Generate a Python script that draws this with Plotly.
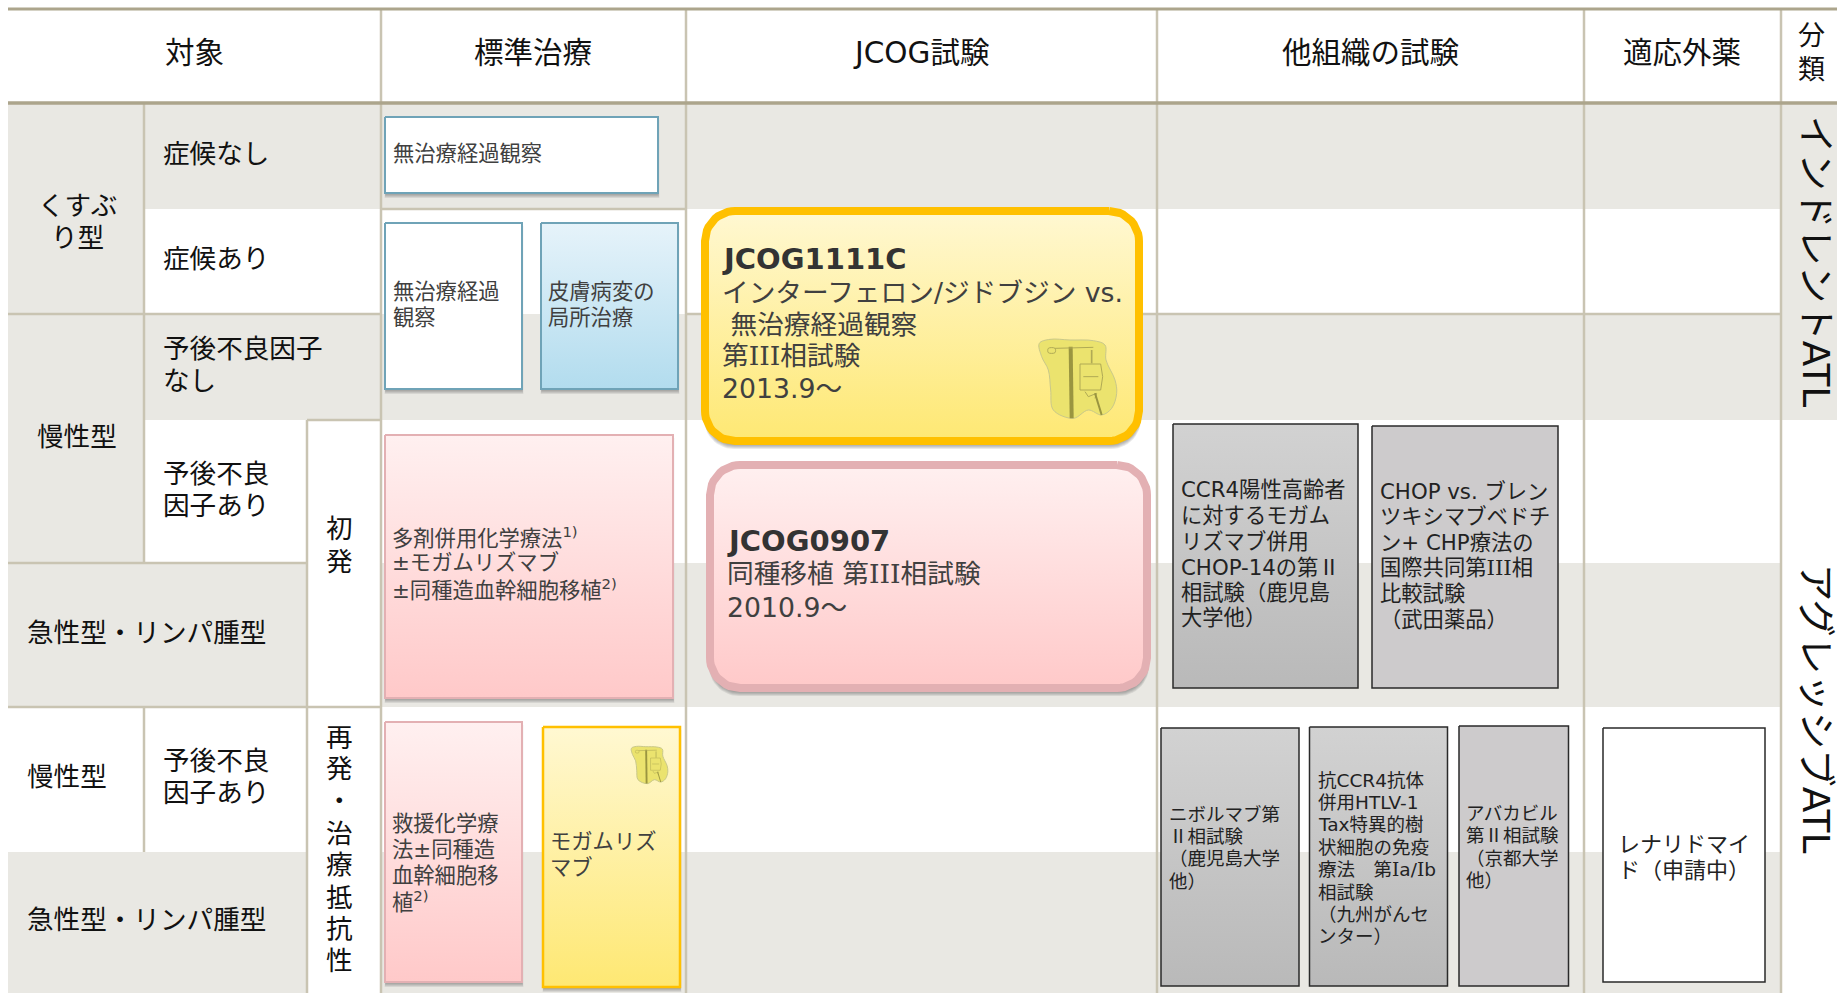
import numpy as np
import plotly.graph_objects as go

# ---------- content ----------
HEADERS = ["対象", "標準治療", "JCOG試験", "他組織の試験", "適応外薬"]
CLASS_HEAD = ["分", "類"]
CLASS_ROT = ["インドレントATL", "アグレッシブATL"]
ROW_TYPE = [["くすぶ", "り型"], ["慢性型"]]
ROW_SUB = [["症候なし"], ["症候あり"], ["予後不良因子", "なし"], ["予後不良", "因子あり"]]
ROW_WIDE = ["急性型・リンパ腫型", "慢性型", "急性型・リンパ腫型"]
ROW_SUB2 = ["予後不良", "因子あり"]
STAGE1 = list("初発")
STAGE2 = list("再発・治療抵抗性")

T_WATCH1 = ["無治療経過観察"]
T_WATCH2 = ["無治療経過", "観察"]
T_SKIN = ["皮膚病変の", "局所治療"]
T_CHEMO = ["多剤併用化学療法<sup>1)</sup>", "±モガムリズマブ", "±同種造血幹細胞移植<sup>2)</sup>"]
T_SALV = ["救援化学療", "法±同種造", "血幹細胞移", "植<sup>2)</sup>"]
T_MOGA = ["モガムリズ", "マブ"]
J1_TITLE = "JCOG1111C"
J1_LINES = ["インターフェロン/ジドブジン vs.", " 無治療経過観察", "第III相試験", "2013.9～"]
J2_TITLE = "JCOG0907"
J2_LINES = ["同種移植 第III相試験", "2010.9～"]
T_CCR4 = ["CCR4陽性高齢者", "に対するモガム", "リズマブ併用", "CHOP-14の第Ⅱ", "相試験（鹿児島", "大学他）"]
T_CHOP = ["CHOP vs. ブレン", "ツキシマブベドチ", "ン+ CHP療法の", "国際共同第III相", "比較試験", "（武田薬品）"]
T_NIVO = ["ニボルマブ第", "Ⅱ相試験", "（鹿児島大学", "他）"]
T_HTLV = ["抗CCR4抗体", "併用HTLV-1", "Tax特異的樹", "状細胞の免疫", "療法　第Ia/Ib", "相試験", "（九州がんセ", "ンター）"]
T_ABA = ["アバカビル", "第Ⅱ相試験", "（京都大学", "他）"]
T_LENA = ["レナリドマイ", "ド（申請中）"]

# ---------- style ----------
W, H = 1837, 993
FONT = "DejaVu Sans, Noto Sans CJK JP, sans-serif"
GREY = "#e9e8e3"
LINE = "#c9c4b2"
HEADLINE = "#aca58c"
BLUE_EDGE = "#6fa3b7"
PINK_EDGE = "#e3b0b3"
GOLD = "#ffc000"
PINK_G = ("#fff0f0", "#ffc9c9")
GOLD_G = ("#fff8d2", "#fee873")
BLUE_G = ("#e6f3fa", "#b2dcee")
GRAY_G = ("#d2d2d2", "#b9b9b9")
TXT_BOX = "#404040"

fig = go.Figure()
shapes, notes = [], []


def band(x0, x1, y0, y1, color=GREY):
    shapes.append(dict(type="rect", x0=x0, x1=x1, y0=y0, y1=y1, fillcolor=color,
                       line_width=0, layer="below", xref="x", yref="y"))


def rule(x0, y0, x1, y1, color=LINE, width=2.5):
    shapes.append(dict(type="line", x0=x0, x1=x1, y0=y0, y1=y1,
                       line=dict(color=color, width=width), layer="below", xref="x", yref="y"))


def outline(x0, y0, x1, y1, r=0):
    if r <= 0:
        return [x0, x1, x1, x0, x0], [y0, y0, y1, y1, y0]
    xs, ys = [], []
    corners = [(x1 - r, y0 + r, -90), (x1 - r, y1 - r, 0), (x0 + r, y1 - r, 90), (x0 + r, y0 + r, 180)]
    for cx, cy, a in corners:
        t = np.radians(np.linspace(a, a + 90, 14))
        xs += list(cx + r * np.cos(t))
        ys += list(cy + r * np.sin(t))
    return xs + xs[:1], ys + ys[:1]


def poly(xs, ys, **kw):
    fig.add_trace(go.Scatter(x=xs, y=ys, mode="lines", hoverinfo="skip", showlegend=False, **kw))


def box(x0, y0, x1, y1, fill=None, grad=None, edge="#000", lw=1.5, r=0, shadow=0):
    if shadow:
        for i in range(shadow, 0, -1):
            xs, ys = outline(x0 - i * .25 + 1, y0 + shadow * .6, x1 + i * .25, y1 + i * 1.0, max(r, 0))
            poly(xs, ys, fill="toself", fillcolor="rgba(60,60,60,0.11)", line=dict(width=0))
    xs, ys = outline(x0, y0, x1, y1, r)
    kw = dict(line=dict(color=edge, width=lw), fill="toself")
    if grad:
        kw["fillgradient"] = dict(type="vertical", start=y0, stop=y1,
                                  colorscale=[[0, grad[0]], [1, grad[1]]])
    else:
        kw["fillcolor"] = fill
    poly(xs, ys, **kw)


def markup(s):
    serif = "<span style=\"font-family:'DejaVu Serif'\">%s</span>"
    cjk = "<span style=\"font-family:'Noto Sans CJK JP'\">%s</span>"
    s = s.replace("III", serif % "III").replace("Ia/Ib", serif % "I" + "a/" + serif % "I" + "b")
    return s.replace("Ⅱ", cjk % "Ⅱ")


def text(s, x, y, size, color="#111", anchor="left", bold=False, angle=0, weight=400):
    if anchor == "left":
        x -= 2.5
    if "Ⅱ" in s:
        y -= 1.7
    notes.append(dict(text=f"<b>{s}</b>" if bold else markup(s), x=x, y=y + 0.7, xref="x", yref="y",
                      xanchor=anchor, yanchor="middle", showarrow=False, textangle=angle,
                      font=dict(family=FONT, size=size, color=color, weight=700 if bold else weight)))


def lines(items, x, ys, size, **kw):
    for s, y in zip(items, ys):
        text(s, x, y, size, **kw)


def icon(ox, oy, s):
    bx = [28, 60, 120, 190, 225, 228, 255, 260, 245, 215, 175, 130, 70, 62, 55, 35, 28]
    by = [40, 28, 30, 32, 45, 90, 150, 190, 235, 255, 240, 265, 240, 180, 120, 80, 40]
    X = lambda v: [ox + s * a for a in v]
    Y = lambda v: [oy + s * a for a in v]
    poly(X(bx), Y(by), fill="toself", fillcolor="#ebe36e", line=dict(color="#c9c88a", width=1, shape="spline"))
    dark = "#9a9540"
    pale = "#b0aa55"
    poly(X([122, 125]), Y([50, 265]), line=dict(color=dark, width=max(1.5, 12 * s)))
    poly(X([75, 190]), Y([55, 52]), line=dict(color=pale, width=max(.6, 3 * s)))
    poly(X([55, 75, 75, 55, 55]), Y([55, 55, 68, 68, 55]), line=dict(color=pale, width=max(.5, 3 * s), shape="spline"))
    poly(X([150, 212, 218, 212, 150, 150]), Y([102, 102, 140, 180, 180, 102]), line=dict(color=pale, width=max(.5, 3 * s)))
    poly(X([160, 205]), Y([140, 140]), line=dict(color=pale, width=max(.5, 3 * s)))
    poly(X([185, 185]), Y([60, 100]), line=dict(color=pale, width=max(.6, 5 * s)))
    poly(X([165, 175, 200, 195]), Y([185, 200, 190, 205]), line=dict(color=pale, width=max(.5, 3 * s)))
    poly(X([195, 205, 215]), Y([190, 225, 255]), line=dict(color=dark, width=max(.6, 6 * s)))


# ---------- table background ----------
L, C1, C2, C3, C4, C5, C6, C7 = 8, 144, 307, 381, 686, 1157, 1584, 1781
Y0, Y1, R1, R2, R3, R4, R5, R6 = 9, 103, 209, 314, 420, 563, 707, 852

band(L, C1, Y1, R4)
band(C1, C3, Y1, R1)
band(C1, C3, R2, R3)
band(L, C2, R4, R5)
band(L, C2, R6, H)
for a, b in ((Y1, R1), (R2, R3), (R4, R5), (R6, H)):
    band(C3, C7, a, b)
band(C7, W, Y1, R3)

rule(L, R2, C3, R2)
rule(C4, R2, C7, R2)
rule(C3, R1, C4, R1)
rule(C2, R3, C3, R3)
rule(L, R4, C2, R4)
rule(L, R5, C3, R5)
rule(C1, Y1, C1, R4)
rule(C1, R5, C1, R6)
rule(C2, R3, C2, H)
for c in (C3, C4, C5, C6, C7):
    rule(c, Y0, c, H)
rule(L, Y0, W, Y0, HEADLINE, 3)
rule(L, Y1, W, Y1, HEADLINE, 3.5)

# ---------- boxes ----------
box(385, 117, 658, 193, fill="#ffffff", edge=BLUE_EDGE, lw=2, shadow=5)
box(385, 223, 522, 389, fill="#ffffff", edge=BLUE_EDGE, lw=2, shadow=5)
box(541, 223, 678, 389, grad=BLUE_G, edge=BLUE_EDGE, lw=2, shadow=5)
box(385, 435, 673, 698, grad=PINK_G, edge=PINK_EDGE, lw=2, shadow=5)
box(385, 722, 522, 982, grad=PINK_G, edge=PINK_EDGE, lw=2, shadow=5)
box(543, 727, 680, 987, grad=GOLD_G, edge=GOLD, lw=2.5, shadow=5)
box(705, 211, 1139, 441, grad=GOLD_G, edge=GOLD, lw=8, r=30, shadow=8)
box(710, 465, 1147, 688, grad=PINK_G, edge=PINK_EDGE, lw=8, r=30, shadow=8)
box(1173, 424, 1358, 688, grad=GRAY_G, edge="#2a2a2a", lw=1.5)
box(1372, 426, 1558, 688, fill="#cdcbcc", edge="#2a2a2a", lw=1.5)
box(1161, 728, 1299, 986, grad=GRAY_G, edge="#2a2a2a", lw=1.5)
box(1309.5, 727, 1447.5, 986, grad=GRAY_G, edge="#2a2a2a", lw=1.5)
box(1459, 726, 1568.5, 986, fill="#cdcbcc", edge="#2a2a2a", lw=1.5)
box(1603, 728, 1765, 982, fill="#ffffff", edge="#2a2a2a", lw=1.5)
icon(1030, 330, 1 / 3)
icon(627, 742, 0.157)

# ---------- text ----------
for s, x in zip(HEADERS, (194, 533, 921, 1370, 1682)):
    text(s, x, 52, 29.5, anchor="center")
lines(CLASS_HEAD, 1811, (35, 69), 27, anchor="center")
text(CLASS_ROT[0], 1816, 261, 37.5, anchor="center", angle=90)
text(CLASS_ROT[1], 1816, 708, 37.5, anchor="center", angle=90)
lines(ROW_TYPE[0], 77, (205, 237), 26.6, anchor="center")
lines(ROW_TYPE[1], 77, (436,), 26.6, anchor="center")
lines(ROW_SUB[0], 163, (153,), 26.6)
lines(ROW_SUB[1], 163, (258,), 26.6)
lines(ROW_SUB[2], 163, (348, 380), 26.6)
lines(ROW_SUB[3], 163, (473, 505), 26.6)
text(ROW_WIDE[0], 27.7, 632, 26.6)
text(ROW_WIDE[1], 27.7, 776, 26.6)
text(ROW_WIDE[2], 27.7, 919, 26.6)
lines(ROW_SUB2, 163, (760, 792), 26.6)
lines(STAGE1, 339, (528, 561), 26.6, anchor="center")
lines(STAGE2, 339, (737, 768, 800, 833, 864, 897, 928, 960), 26.6, anchor="center")

lines(T_WATCH1, 393, (153,), 21.3, color=TXT_BOX)
lines(T_WATCH2, 393, (291, 317), 21.3, color=TXT_BOX)
lines(T_SKIN, 548, (291, 317), 21.3, color=TXT_BOX)
lines(T_CHEMO, 392, (536, 562, 588), 21.3, color=TXT_BOX)
lines(T_SALV, 392, (823, 849, 875, 900), 21.3, color=TXT_BOX)
lines(T_MOGA, 550, (841, 867), 21.3, color=TXT_BOX)

text(J1_TITLE, 722, 258, 29, color="#333", bold=True)
lines(J1_LINES, 722, (292, 324, 355, 388), 26.7, color=TXT_BOX)
text(J2_TITLE, 727, 540, 29, color="#333", bold=True)
lines(J2_LINES, 727, (573, 607), 26.7, color=TXT_BOX)

lines(T_CCR4, 1181, (489, 515, 541, 566, 592, 617), 21.3, color="#222")
lines(T_CHOP, 1380, (491, 516, 542, 567, 593, 619), 21.3, color="#222")
lines(T_NIVO, 1169, (814, 836, 858, 881), 18.5, color="#222")
lines(T_HTLV, 1318, (780, 802, 824, 847, 869, 892, 914, 936), 18.5, color="#222")
lines(T_ABA, 1466, (813, 835, 858, 880), 18.5, color="#222")
lines(T_LENA, 1618, (844, 870), 22, color="#222")

fig.update_layout(
    width=W, height=H, margin=dict(l=0, r=0, t=0, b=0), autosize=False,
    paper_bgcolor="#ffffff", plot_bgcolor="#ffffff", showlegend=False,
    xaxis=dict(range=[0, W], visible=False, fixedrange=True),
    yaxis=dict(range=[H, 0], visible=False, fixedrange=True),
    shapes=shapes, annotations=notes,
)
fig.write_html("out.html", config=dict(displayModeBar=False),
               post_script="document.body.style.margin='0';document.body.style.overflow='hidden';")
